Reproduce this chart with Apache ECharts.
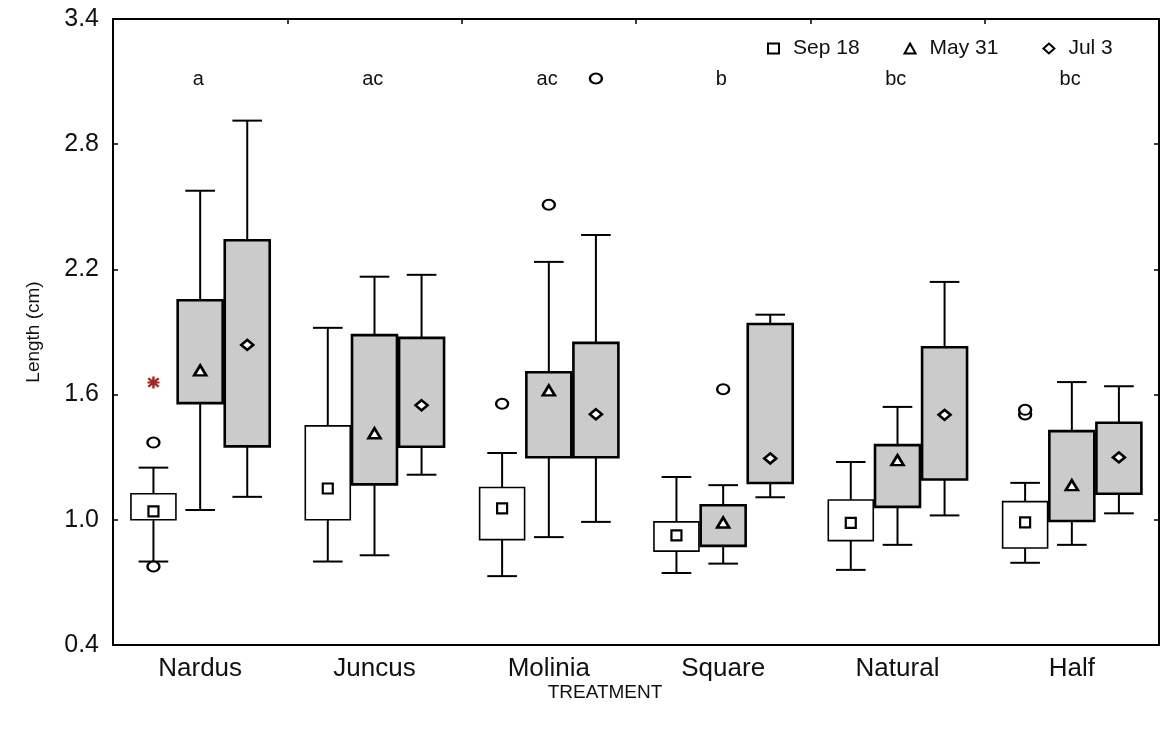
<!DOCTYPE html>
<html>
<head>
<meta charset="utf-8">
<script src="https://cdn.jsdelivr.net/npm/echarts@6/dist/echarts.min.js"></script>
<style>
  html, body { margin: 0; padding: 0; background: #ffffff; }
  #chart { width: 1161px; height: 733px; }
</style>
</head>
<body>
<div id="chart"></div>
<script>
// Treatments on the x axis and sampling dates
const categories = ['Nardus', 'Juncus', 'Molinia', 'Square', 'Natural', 'Half'];
const dates = ['Sep 18', 'May 31', 'Jul 3'];
// Letters of significance shown above each treatment
const letters = ['a', 'ac', 'ac', 'b', 'bc', 'bc'];
const letterLevel = 3.11;

// Box statistics per treatment: [lower whisker, Q1, median, Q3, upper whisker]
const sep18 = [
  [0.80, 1.00, 1.04, 1.125, 1.25],
  [0.80, 1.00, 1.15, 1.45, 1.92],
  [0.73, 0.905, 1.055, 1.155, 1.32],
  [0.745, 0.85, 0.925, 0.99, 1.205],
  [0.76, 0.90, 0.985, 1.095, 1.277],
  [0.794, 0.865, 0.988, 1.087, 1.177]
];
const may31 = [
  [1.047, 1.559, 1.716, 2.052, 2.577],
  [0.83, 1.17, 1.415, 1.885, 2.165],
  [0.917, 1.30, 1.62, 1.707, 2.236],
  [0.79, 0.875, 0.987, 1.07, 1.166],
  [0.88, 1.062, 1.286, 1.358, 1.541],
  [0.88, 0.994, 1.166, 1.425, 1.66]
];
const jul3 = [
  [1.11, 1.352, 1.838, 2.34, 2.913],
  [1.216, 1.35, 1.549, 1.872, 2.174],
  [0.99, 1.30, 1.506, 1.848, 2.365],
  [1.108, 1.176, 1.294, 1.938, 1.983],
  [1.021, 1.193, 1.503, 1.827, 2.14],
  [1.031, 1.125, 1.299, 1.465, 1.64]
];

// Outliers as [treatment index, value]
const sep18Outliers = [[0, 1.37], [0, 0.776], [2, 1.556], [5, 1.505], [5, 1.527]];
const may31Outliers = [[2, 2.51], [3, 1.626]];
const jul3Outliers = [[2, 3.115]];
// Extreme values as [treatment index, value]
const sep18Extremes = [[0, 1.658]];

// Y axis tick labels
const yTicks = [0.4, 1.0, 1.6, 2.2, 2.8, 3.4];

// Layout of the three boxes inside a treatment band (in band units)
const OFFSETS = [-0.268, 0, 0.27];
const BOX_WIDTH = 0.258;
const CAP_WIDTH = 0.17;
const GRAY = '#cbcbcb';
const FONT = 'Liberation Sans, Arial, Helvetica, sans-serif';

function boxData(stats, k) {
  return stats.map((d, i) => [i + 1 + OFFSETS[k]].concat(d));
}
function medianData(stats, k) {
  return stats.map((d, i) => [i + 1 + OFFSETS[k], d[2]]);
}
function pointData(list, k) {
  return list.map(p => [p[0] + 1 + OFFSETS[k], p[1]]);
}

function boxRenderer(fill, boxLine) {
  return function (params, api) {
    const x = api.value(0);
    const half = api.size([BOX_WIDTH, 0])[0] / 2;
    const capHalf = api.size([CAP_WIDTH, 0])[0] / 2;
    const lo = api.coord([x, api.value(1)]);
    const q1 = api.coord([x, api.value(2)]);
    const q3 = api.coord([x, api.value(4)]);
    const hi = api.coord([x, api.value(5)]);
    const ls = { stroke: '#000', lineWidth: 2 };
    return {
      type: 'group',
      children: [
        { type: 'line', shape: { x1: lo[0], y1: lo[1], x2: q1[0], y2: q1[1] }, style: ls },
        { type: 'line', shape: { x1: q3[0], y1: q3[1], x2: hi[0], y2: hi[1] }, style: ls },
        { type: 'line', shape: { x1: lo[0] - capHalf, y1: lo[1], x2: lo[0] + capHalf, y2: lo[1] }, style: ls },
        { type: 'line', shape: { x1: hi[0] - capHalf, y1: hi[1], x2: hi[0] + capHalf, y2: hi[1] }, style: ls },
        {
          type: 'rect',
          shape: { x: q3[0] - half, y: q3[1], width: half * 2, height: q1[1] - q3[1] },
          style: { fill: fill, stroke: '#000', lineWidth: boxLine }
        }
      ]
    };
  };
}

const boxSeries = (stats, k, fill, boxLine) => ({
  type: 'custom',
  xAxisIndex: 1,
  yAxisIndex: 0,
  renderItem: boxRenderer(fill, boxLine),
  encode: { x: 0, y: [1, 2, 3, 4, 5] },
  data: boxData(stats, k),
  z: 2
});

const markerStyle = { color: '#ffffff', borderColor: '#000000', borderWidth: 2.2, opacity: 1 };

// Asterisk used for extreme values
const ASTERISK = 'path://M4,0H6V3.6L8.6,1L10,2.4L7.4,5H10V7H7.4L10,9.6L8.6,11L6,8.4V12H4V8.4L1.4,11L0,9.6L2.6,7H0V5H2.6L0,2.4L1.4,1L4,3.6Z';

const option = {
  animation: false,
  backgroundColor: '#ffffff',
  textStyle: { fontFamily: FONT, color: '#111' },
  grid: { left: 113, right: 2, top: 19, bottom: 88, containLabel: false },
  legend: {
    data: dates,
    left: 762,
    top: 33,
    itemGap: 44,
    itemWidth: 11,
    itemHeight: 10,
    selectedMode: false,
    textStyle: { fontFamily: FONT, fontSize: 21, color: '#111', padding: [0, 0, 0, 9] }
  },
  xAxis: [
    {
      type: 'category',
      data: categories,
      position: 'bottom',
      boundaryGap: true,
      axisLine: { lineStyle: { color: '#000', width: 2 } },
      axisTick: { inside: true, length: 5, lineStyle: { color: '#000', width: 1.5 } },
      axisLabel: { fontFamily: FONT, fontSize: 26, color: '#111', margin: 11 },
      splitLine: { show: false }
    },
    {
      type: 'value',
      position: 'top',
      min: 0.5,
      max: 6.5,
      axisLine: { show: true, onZero: false, lineStyle: { color: '#000', width: 2 } },
      axisTick: { show: true, inside: true, length: 5, customValues: [1.5, 2.5, 3.5, 4.5, 5.5], lineStyle: { color: '#000', width: 1.5 } },
      axisLabel: { show: false },
      splitLine: { show: false }
    }
  ],
  yAxis: [
    {
      type: 'value',
      position: 'left',
      min: 0.4,
      max: 3.4,
      name: 'Length (cm)',
      nameLocation: 'middle',
      nameGap: 70,
      nameTextStyle: { fontFamily: FONT, fontSize: 19, color: '#111' },
      axisLine: { show: true, onZero: false, lineStyle: { color: '#000', width: 2 } },
      axisTick: { show: true, inside: true, length: 5, customValues: yTicks, lineStyle: { color: '#000', width: 1.5 } },
      axisLabel: { customValues: yTicks, fontFamily: FONT, fontSize: 25, color: '#111', margin: 14, formatter: v => v.toFixed(1) },
      splitLine: { show: false }
    },
    {
      type: 'value',
      position: 'right',
      min: 0.4,
      max: 3.4,
      axisLine: { show: true, onZero: false, lineStyle: { color: '#000', width: 2 } },
      axisTick: { show: true, inside: true, length: 5, customValues: yTicks, lineStyle: { color: '#000', width: 1.5 } },
      axisLabel: { show: false },
      splitLine: { show: false }
    }
  ],
  graphic: [
    {
      type: 'text',
      x: 605,
      y: 693,
      style: { text: 'TREATMENT', fontFamily: FONT, fontSize: 19, fill: '#111', align: 'center', verticalAlign: 'middle' }
    }
  ],
  series: [
    boxSeries(sep18, 0, '#ffffff', 1.6),
    boxSeries(may31, 1, GRAY, 2.6),
    boxSeries(jul3, 2, GRAY, 2.6),
    {
      name: dates[0], type: 'scatter', xAxisIndex: 1, yAxisIndex: 0,
      symbol: 'rect', symbolSize: 10, itemStyle: markerStyle,
      data: medianData(sep18, 0), z: 5
    },
    {
      name: dates[1], type: 'scatter', xAxisIndex: 1, yAxisIndex: 0,
      symbol: 'triangle', symbolSize: [12, 10], itemStyle: { color: '#ffffff', borderColor: '#000', borderWidth: 2.6, opacity: 1 },
      data: medianData(may31, 1), z: 5
    },
    {
      name: dates[2], type: 'scatter', xAxisIndex: 1, yAxisIndex: 0,
      symbol: 'diamond', symbolSize: [12, 10], itemStyle: { color: '#ffffff', borderColor: '#000', borderWidth: 2.6, opacity: 1 },
      data: medianData(jul3, 2), z: 5
    },
    {
      name: 'outliers', type: 'scatter', xAxisIndex: 1, yAxisIndex: 0,
      symbol: 'circle', symbolSize: [12, 10], itemStyle: markerStyle,
      data: pointData(sep18Outliers, 0).concat(pointData(may31Outliers, 1), pointData(jul3Outliers, 2)), z: 5
    },
    {
      name: 'extremes', type: 'scatter', xAxisIndex: 1, yAxisIndex: 0,
      symbol: ASTERISK, symbolSize: 12, itemStyle: { color: '#a3261f', opacity: 1 },
      data: pointData(sep18Extremes, 0), z: 5
    },
    {
      name: 'letters', type: 'scatter', xAxisIndex: 1, yAxisIndex: 0,
      symbolSize: 0, silent: true,
      itemStyle: { opacity: 1 },
      label: {
        show: true, position: 'inside', fontFamily: FONT, fontSize: 20, color: '#111', opacity: 1,
        formatter: p => letters[p.dataIndex]
      },
      data: letters.map((_, i) => [i + 1 - 0.01, letterLevel]), z: 6
    }
  ]
};

const chart = echarts.init(document.getElementById('chart'), null, { renderer: 'canvas' });
chart.setOption(option);
</script>
</body>
</html>
